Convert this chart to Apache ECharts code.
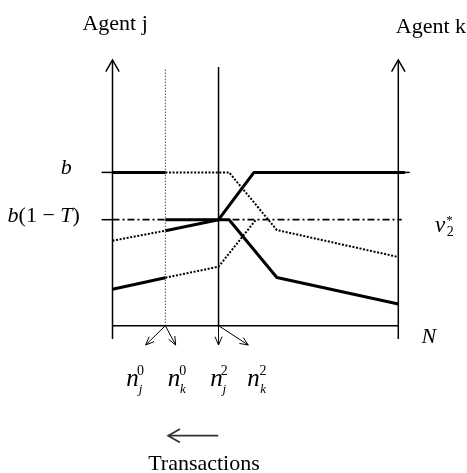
<!DOCTYPE html>
<html>
<head>
<meta charset="utf-8">
<script src="https://cdn.jsdelivr.net/npm/echarts@6/dist/echarts.min.js"></script>
<style>
  html, body { margin: 0; padding: 0; background: #fff; }
  #chart { width: 467px; height: 473px; }
</style>
</head>
<body>
<div id="chart"></div>
<script>
// x: share of N (0 = agent j axis, 100 = agent k axis); y: value level above the N line
const B = 153.3;      // b
const BT = 106;       // b(1-T) = v2*
const N0 = 18.5;      // n_j^0 / n_k^0 split
const N2 = 37.1;      // n_j^2 / n_k^2 split

// thick (solid) value paths
const jTop = [[0, B], [N0, B]];
const jFlat = [[N0, BT], [N2, BT]];
const jMid = [[N0, 95], [N2, BT]];
const jLow = [[0, 36.4], [N0, 48]];
const kTop = [[N2, BT], [49.5, B], [102.3, B]];
const kDown = [[N2, BT], [40.8, BT], [57.5, 48.2], [100, 21.7]];

// dotted value paths
const dotUpper = [[N0, B], [40.8, B], [57.5, 95.7], [100, 68.7]];
const dotMid = [[0, 85], [N0, 95]];
const dotLow = [[N0, 48], [N2, 59], [50.2, BT]];

// dash-dot v2* level
const v2Level = [[0, BT], [101.2, BT]];

// thin guide lines
const baseLine = [[0, 0], [100, 0]];
const n2Guide = [[N2, 0], [N2, 258.7]];
const n0Guide = [[N0, 0], [N0, 258]];
const bTickL = [[-3.8, B], [0, B]];
const bTickR = [[100, B], [104, B]];
const btTickL = [[-3.8, BT], [0, BT]];

// arrows [x1, y1, x2, y2]
const axisArrows = [[0, -13.3, 0, 265.7], [100, -13.3, 100, 265.7]];
const splitArrows = [[N0, 0, 11.6, -19.3], [N0, 0, 22.1, -19.3], [N2, 0, N2, -19.3], [N2, 0, 47.5, -19.3]];
const tradeArrow = [[37.0, -110, 19.5, -110]];

// texts [text, x, y]
const agentTitles = [['Agent j', 0.9, 301.4], ['Agent k', 111.4, 298.1]];
const levelLabels = [['{i|b}', -14.3, 157.2], ['{i|b}(1 − {i|T})', -11.4, 109.7]];
const nX = [7.0, 21.5, 36.4, 49.3];
const scriptX = [9.8, 24.6, 39.1, 52.7];
const supText = ['0', '0', '2', '2'];
const subText = ['j', 'k', 'j', 'k'];

const SERIF = "'Liberation Serif', 'Times New Roman', serif";
const W = 467, H = 473, PLOT_L = 112.5, PLOT_R = 398.3, BASE_Y = 325.7;
const xUnit = (PLOT_R - PLOT_L) / 100;

function line(data, width, type) {
  return {
    type: 'line', data, symbol: 'none', silent: true, clip: false,
    lineStyle: { color: '#000', width, type: type || 'solid', cap: 'butt' }
  };
}

function arrows(list, head, spread, color, width) {
  return {
    type: 'custom', silent: true, clip: false,
    data: list,
    renderItem(params, api) {
      const a = api.coord([api.value(0), api.value(1)]);
      const b = api.coord([api.value(2), api.value(3)]);
      const ang = Math.atan2(b[1] - a[1], b[0] - a[0]);
      const wing = s => [b[0] - head * Math.cos(ang + s), b[1] - head * Math.sin(ang + s)];
      return {
        type: 'group',
        children: [
          { type: 'line', shape: { x1: a[0], y1: a[1], x2: b[0], y2: b[1] }, style: { stroke: color, lineWidth: width } },
          { type: 'polyline', shape: { points: [wing(spread), b, wing(-spread)] }, style: { stroke: color, lineWidth: width, fill: null } }
        ]
      };
    }
  };
}

function texts(items, style) {
  return {
    type: 'custom', silent: true, clip: false,
    data: items.map(t => [t[1], t[2]]),
    renderItem(params, api) {
      const t = items[params.dataIndex];
      const p = api.coord([t[1], t[2]]);
      return {
        type: 'text', x: p[0], y: p[1],
        style: Object.assign({
          text: t[0], fill: '#000', fontFamily: SERIF,
          align: 'center', verticalAlign: 'middle'
        }, style)
      };
    }
  };
}

const chart = echarts.init(document.getElementById('chart'), null, { renderer: 'canvas' });
chart.setOption({
  animation: false,
  backgroundColor: '#fff',
  grid: { left: 0, right: 0, top: 0, bottom: 0 },
  xAxis: { type: 'value', show: false, min: -PLOT_L / xUnit, max: 100 + (W - PLOT_R) / xUnit },
  yAxis: { type: 'value', show: false, min: BASE_Y - H, max: BASE_Y },
  series: [
    line(baseLine, 1.5),
    line(n2Guide, 1.5),
    line(n0Guide, 1, [1, 2]),
    line(bTickL, 1.5),
    line(bTickR, 1.5),
    line(btTickL, 1.5),
    line(v2Level, 1.8, [7, 3, 2, 3]),
    line(dotUpper, 2, [2, 1.6]),
    line(dotMid, 2, [2, 1.6]),
    line(dotLow, 2, [2, 1.6]),
    line(jTop, 3),
    line(jFlat, 3),
    line(jMid, 3),
    line(jLow, 3),
    line(kTop, 3),
    line(kDown, 3),
    arrows(axisArrows, 13.5, 0.52, '#000', 1.5),
    arrows(splitArrows, 9, 0.4, '#000', 1),
    arrows(tradeArrow, 13.5, 0.52, '#333', 1.8),
    texts(agentTitles, { fontSize: 22 }),
    texts(levelLabels, { fontSize: 22, align: 'right', rich: { i: { fontStyle: 'italic', fontSize: 22, fontFamily: SERIF } } }),
    texts([['v', 114.6, 99.8]], { fontSize: 23, fontStyle: 'italic' }),
    texts([['2', 118.2, 93.2]], { fontSize: 14 }),
    texts([['*', 117.9, 105.1]], { fontSize: 13 }),
    texts([['N', 110.7, -11.8]], { fontSize: 22, fontStyle: 'italic' }),
    texts(nX.map(x => ['n', x, -54]), { fontSize: 25, fontStyle: 'italic' }),
    texts(supText.map((s, i) => [s, scriptX[i], -45.6]), { fontSize: 14 }),
    texts(subText.map((s, i) => [s, scriptX[i], -64.3]), { fontSize: 13, fontStyle: 'italic' }),
    texts([['Transactions', 32.0, -138.6]], { fontSize: 22 })
  ]
});
</script>
</body>
</html>
